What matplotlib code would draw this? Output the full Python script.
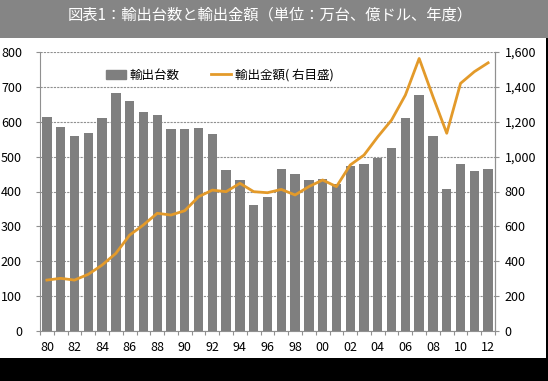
import matplotlib.pyplot as plt
import matplotlib.patches as mpatches
from matplotlib.lines import Line2D

plt.rcParams['font.family'] = ['Noto Sans CJK JP', 'DejaVu Sans']

years = list(range(1980, 2013))
units = [615, 585, 558, 567, 612, 683, 660, 627, 618, 580, 580, 582,
         565, 461, 433, 361, 384, 465, 449, 433, 435, 421, 474, 478,
         497, 525, 612, 676, 559, 407, 478, 460, 465]
value = [292, 302, 292, 325, 378, 445, 550, 608, 675, 665, 690, 770,
         808, 799, 847, 799, 793, 812, 780, 828, 866, 828, 952, 1009,
         1114, 1210, 1353, 1563, 1344, 1134, 1420, 1487, 1538]
tick_labels = ['%02d' % (y % 100) for y in years]

bar_color = '#7f7f7f'
line_color = '#e39a2a'

fig = plt.figure(figsize=(5.48, 3.81), dpi=100)
fig.patch.set_facecolor('black')
# white panel and grey title band
fig.patches.append(mpatches.Rectangle((0, 0.06), 546 / 548, 0.84, transform=fig.transFigure,
                                      facecolor='white', edgecolor='none', zorder=-2))
fig.patches.append(mpatches.Rectangle((0, 0.9), 1, 0.1, transform=fig.transFigure,
                                      facecolor='#858585', edgecolor='none', zorder=-2))
fig.text(0.493, 0.96, '図表1：輸出台数と輸出金額（単位：万台、億ドル、年度）',
         color='white', fontsize=11, ha='center', va='center')

ax = fig.add_axes([40 / 548, 1 - 331 / 381, 455 / 548, 279 / 381])
ax.set_facecolor('none')
x = list(range(len(years)))
ax.bar(x, units, width=0.68, color=bar_color, zorder=2)
ax.set_xlim(-0.5, len(years) - 0.5)
ax.set_ylim(0, 800)
ax.set_yticks(range(0, 801, 100))
ax.yaxis.grid(True, color='#909090', linestyle=(0, (2, 1)), linewidth=0.8, zorder=1)
ax.set_axisbelow(True)
ax.set_xticks([i - 0.5 for i in range(len(years) + 1)], minor=False)
ax.set_xticklabels([])
ax.set_xticks(x[::2], minor=True)
ax.set_xticklabels(tick_labels[::2], minor=True)
ax.tick_params(axis='x', which='major', length=3, color='#909090', direction='out')
ax.tick_params(axis='x', which='minor', length=0, labelsize=9, pad=7)
ax.tick_params(axis='y', length=3, color='#909090', labelsize=9, pad=10)
ax.spines['top'].set_visible(False)
for s in ['left', 'bottom', 'right']:
    ax.spines[s].set_color('#909090')

ax2 = ax.twinx()
ax2.plot(x, value, color=line_color, linewidth=2, zorder=3)
ax2.set_ylim(0, 1600)
ax2.set_yticks(range(0, 1601, 200))
ax2.set_yticklabels(['{:,}'.format(v) for v in range(0, 1601, 200)])
ax2.tick_params(axis='y', length=3, color='#909090', labelsize=9, pad=4)
ax2.spines['top'].set_visible(False)
ax2.spines['right'].set_color('#909090')
ax2.spines['left'].set_visible(False)
ax2.spines['bottom'].set_visible(False)

handles = [mpatches.Patch(color=bar_color, label='輸出台数'),
           Line2D([], [], color=line_color, linewidth=2, label='輸出金額( 右目盛)')]
ax2.legend(handles=handles, ncol=2, frameon=False, loc='upper left',
           bbox_to_anchor=(0.12, 0.98), fontsize=9, handlelength=1.6,
           handletextpad=0.3, columnspacing=2.5)

fig.savefig('out.png', dpi=100, facecolor=fig.get_facecolor())
